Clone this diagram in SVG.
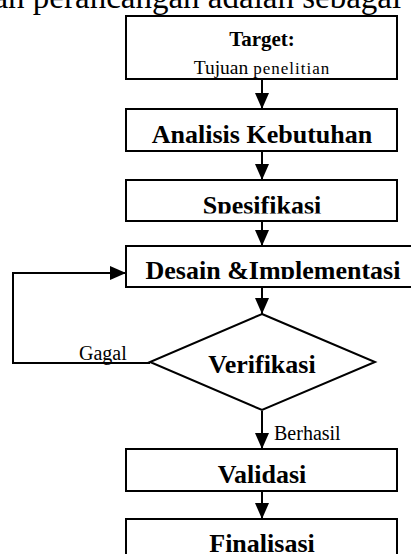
<svg xmlns="http://www.w3.org/2000/svg" width="411" height="554" viewBox="0 0 411 554">
<style>
.box{fill:#fff;stroke:#000;stroke-width:2}
.con{fill:none;stroke:#000;stroke-width:2}
.b{font-family:"Liberation Serif","Times New Roman",serif;font-weight:bold;font-size:26px;fill:#000;text-anchor:middle}
.r{font-family:"Liberation Serif","Times New Roman",serif;font-size:20px;fill:#000}
</style>
<defs>
<marker id="ah" markerUnits="userSpaceOnUse" markerWidth="16" markerHeight="14" refX="16" refY="7" orient="auto">
<path d="M0,0 L16,7 L0,14 z" fill="#000"/>
</marker>
<clipPath id="c3"><rect x="126" y="180" width="271" height="33.5"/></clipPath>
<clipPath id="c4"><rect x="126" y="246" width="300" height="33"/></clipPath>
</defs>
<text x="-78" y="8" class="r" style="font-size:33px">tahapan perancangan adalah  sebagai berikut</text>
<g id="connectors">
<line class="con" x1="262" y1="79" x2="262" y2="109" marker-end="url(#ah)"/>
<line class="con" x1="262" y1="151" x2="262" y2="180" marker-end="url(#ah)"/>
<line class="con" x1="262" y1="221" x2="262" y2="246" marker-end="url(#ah)"/>
<line class="con" x1="262" y1="287" x2="262" y2="314" marker-end="url(#ah)"/>
<line class="con" x1="262" y1="411" x2="262" y2="449" marker-end="url(#ah)"/>
<line class="con" x1="262" y1="491" x2="262" y2="519" marker-end="url(#ah)"/>
<polyline class="con" points="150,363 13,363 13,273 126,273" marker-end="url(#ah)"/>
<text class="r" x="79" y="360">Gagal</text>
<text class="r" x="274" y="440">Berhasil</text>
</g>
<g id="target">
<rect class="box" x="126" y="16" width="271" height="63"/>
<text class="b" x="262" y="46" style="font-size:21px">Target:</text>
<text class="r" x="262" y="74" style="text-anchor:middle"><tspan style="font-size:19.5px">Tujuan</tspan> <tspan style="font-size:17px;letter-spacing:1px">penelitian</tspan></text>
</g>
<g id="analisis">
<rect class="box" x="126" y="109" width="271" height="42"/>
<text class="b" x="262" y="143">Analisis Kebutuhan</text>
</g>
<g id="spesifikasi">
<rect class="box" x="126" y="180" width="271" height="41"/>
<text class="b" x="262" y="213.5" clip-path="url(#c3)">Spesifikasi</text>
</g>
<g id="desain">
<rect class="box" x="126" y="246" width="300" height="41"/>
<text class="b" x="273" y="279" clip-path="url(#c4)">Desain &amp;Implementasi</text>
</g>
<g id="verifikasi">
<polygon class="box" points="262,314 375,362 262,410 150,362"/>
<text class="b" x="262" y="373">Verifikasi</text>
</g>
<g id="validasi">
<rect class="box" x="126" y="449" width="271" height="42"/>
<text class="b" x="262" y="483">Validasi</text>
</g>
<g id="finalisasi">
<rect class="box" x="126" y="519" width="271" height="45"/>
<text class="b" x="262" y="552">Finalisasi</text>
</g>
</svg>
